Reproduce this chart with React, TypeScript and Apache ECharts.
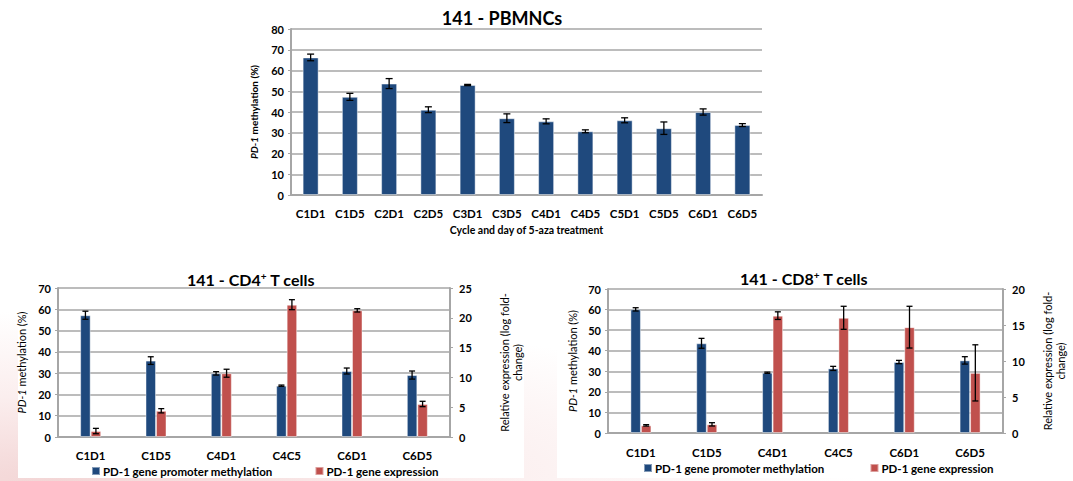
import React, { useEffect, useRef } from "react";
import * as echarts from "echarts";

// ---- Data ----
const topCats = ["C1D1", "C1D5", "C2D1", "C2D5", "C3D1", "C3D5", "C4D1", "C4D5", "C5D1", "C5D5", "C6D1", "C6D5"];
const topMeth = [66.3, 47.3, 53.7, 41.1, 53.0, 37.0, 35.5, 30.7, 36.0, 32.2, 40.0, 33.7];
const topMethErr = [1.6, 1.7, 2.4, 1.4, 0.3, 2.1, 1.2, 0.7, 1.2, 3.0, 1.5, 0.7];

const tCats = ["C1D1", "C1D5", "C4D1", "C4C5", "C6D1", "C6D5"];

const cd4Meth = [57.2, 35.9, 29.9, 24.1, 31.0, 29.1];
const cd4MethErr = [1.9, 1.8, 0.8, 0.3, 1.4, 1.9];
const cd4Expr = [1.0, 4.4, 10.7, 22.2, 21.25, 5.54];
const cd4ExprErr = [0.45, 0.36, 0.67, 0.84, 0.28, 0.45];

const cd8Meth = [60.1, 43.6, 29.3, 31.4, 34.5, 35.3];
const cd8MethErr = [0.8, 2.4, 0.3, 1.0, 0.8, 1.8];
const cd8Expr = [1.06, 1.2, 16.3, 16.0, 14.7, 8.35];
const cd8ExprErr = [0.1, 0.23, 0.53, 1.6, 2.9, 3.9];

const methName = "PD-1 gene promoter methylation";
const exprName = "PD-1 gene expression";

const BLUE = "#1F497D";
const RED = "#C0504D";
const GRID = "#a6a6a6";
const FONT = "Lato";

function errSeries(xIdx: number, yIdx: number, vals: number[], errs: number[], offset: number, cap: number) {
  return {
    type: "custom",
    xAxisIndex: xIdx,
    yAxisIndex: yIdx,
    z: 10,
    silent: true,
    data: vals.map((v, i) => [i, v, errs[i]]),
    renderItem: (params: any, api: any) => {
      const i = api.value(0);
      const v = api.value(1);
      const e = api.value(2);
      const hi = api.coord([i, v + e]);
      const lo = api.coord([i, v - e]);
      const cx = hi[0] + offset;
      const st = { stroke: "#000", lineWidth: 1.3 };
      return {
        type: "group",
        children: [
          { type: "line", shape: { x1: cx, y1: hi[1], x2: cx, y2: lo[1] }, style: st },
          { type: "line", shape: { x1: cx - cap, y1: hi[1], x2: cx + cap, y2: hi[1] }, style: st },
          { type: "line", shape: { x1: cx - cap, y1: lo[1], x2: cx + cap, y2: lo[1] }, style: st },
        ],
      };
    },
  };
}

const axisLabelStyle = { color: "#000", fontFamily: FONT, fontWeight: "bold" as const, fontSize: 11 };

function leftY(gridIndex: number, max: number, interval: number, nameGap: number, nameSize: number, bold: boolean) {
  const w = bold ? "bold" : "normal";
  return {
    type: "value",
    gridIndex,
    min: 0,
    max,
    interval,
    position: "left",
    name: "{i|PD-1} methylation (%)",
    nameLocation: "middle",
    nameRotate: 90,
    nameGap,
    nameTextStyle: {
      color: "#000",
      fontFamily: FONT,
      fontSize: nameSize,
      fontWeight: w,
      rich: { i: { fontStyle: "italic", fontWeight: w, fontFamily: FONT, fontSize: nameSize, color: "#000" } },
    },
    axisLine: { show: true, lineStyle: { color: GRID, width: 2 } },
    axisTick: { show: true, length: 3, lineStyle: { color: GRID } },
    axisLabel: { ...axisLabelStyle, margin: 7 },
    splitLine: { show: true, lineStyle: { color: GRID, width: 1.5 } },
  };
}

function rightY(gridIndex: number, max: number, interval: number, nameGap: number) {
  return {
    type: "value",
    gridIndex,
    min: 0,
    max,
    interval,
    position: "right",
    name: "Relative expression (log fold-\nchange)",
    nameLocation: "middle",
    nameRotate: 90,
    nameGap,
    nameTextStyle: { color: "#000", fontFamily: FONT, fontSize: 11, lineHeight: 13, align: "center" },
    axisLine: { show: true, lineStyle: { color: GRID, width: 2 } },
    axisTick: { show: true, length: 3, lineStyle: { color: GRID } },
    axisLabel: { ...axisLabelStyle, margin: 9 },
    splitLine: { show: false },
  };
}

function catX(gridIndex: number, data: string[], margin: number) {
  return {
    type: "category",
    gridIndex,
    data,
    axisLine: { show: true, lineStyle: { color: GRID, width: 2 } },
    axisTick: { show: false },
    axisLabel: { ...axisLabelStyle, fontSize: 11.5, margin },
  };
}

export default function App() {
  const ref = useRef<HTMLDivElement>(null);
  useEffect(() => {
    if (!ref.current) return;
    const chart = echarts.init(ref.current, null, { renderer: "svg" });
    const barItem = (c: string) => ({ color: c, borderColor: "rgba(255,255,255,0.45)", borderWidth: 1 });
    const legendText = { fontFamily: FONT, fontSize: 11.5, fontWeight: "bold", color: "#000", padding: [0, 0, 0, -2] };
    const option: any = {
      animation: false,
      backgroundColor: "#fff",
      graphic: [
        {
          type: "rect",
          z: -10,
          shape: { x: 0, y: 255, width: 1073, height: 226 },
          style: {
            fill: new echarts.graphic.RadialGradient(0.05, 1, 0.75, [
              { offset: 0, color: "#f3d6d6" },
              { offset: 0.5, color: "#fbeeee" },
              { offset: 1, color: "#ffffff" },
            ]),
          },
          silent: true,
        },
        { type: "rect", z: -9, shape: { x: 18, y: 258, width: 506, height: 220 }, style: { fill: "#fff" }, silent: true },
        { type: "rect", z: -9, shape: { x: 557, y: 258, width: 516, height: 220 }, style: { fill: "#fff" }, silent: true },
      ],
      title: [
        {
          text: "141 - PBMNCs",
          left: 497,
          top: 4,
          textAlign: "center",
          textStyle: { fontFamily: FONT, fontWeight: "bold", fontSize: 18, color: "#000" },
        },
        {
          text: "141 - CD4{sup|+} T cells",
          left: 246,
          top: 266,
          textAlign: "center",
          textStyle: {
            fontFamily: FONT,
            fontWeight: "bold",
            fontSize: 16,
            color: "#000",
            rich: { sup: { fontSize: 10, fontWeight: "bold", fontFamily: FONT, verticalAlign: "top", color: "#000" } },
          },
        },
        {
          text: "141 - CD8{sup|+} T cells",
          left: 799,
          top: 265,
          textAlign: "center",
          textStyle: {
            fontFamily: FONT,
            fontWeight: "bold",
            fontSize: 16,
            color: "#000",
            rich: { sup: { fontSize: 10, fontWeight: "bold", fontFamily: FONT, verticalAlign: "top", color: "#000" } },
          },
        },
      ],
      legend: [
        {
          data: [methName, exprName],
          left: 86,
          top: 460,
          itemWidth: 8,
          itemHeight: 8,
          icon: "rect",
          itemGap: 42,
          textStyle: legendText,
        },
        {
          data: [methName, exprName],
          left: 638,
          top: 457,
          itemWidth: 8,
          itemHeight: 8,
          icon: "rect",
          itemGap: 45,
          textStyle: legendText,
        },
      ],
      grid: [
        { left: 291, right: 311, top: 29, bottom: 286 },
        { left: 58, right: 623, top: 288, bottom: 44 },
        { left: 608, right: 70, top: 289, bottom: 48 },
      ],
      xAxis: [
        {
          ...catX(0, topCats, 12),
          name: "Cycle and day of 5-aza treatment",
          nameLocation: "middle",
          nameGap: 29,
          nameTextStyle: { color: "#000", fontFamily: FONT, fontSize: 10.5, fontWeight: "bold" },
        },
        catX(1, tCats, 12),
        catX(2, tCats, 13),
      ],
      yAxis: [
        leftY(0, 80, 10, 32, 10, true),
        leftY(1, 70, 10, 31, 11, false),
        rightY(1, 25, 5, 48),
        leftY(2, 70, 10, 30, 11, false),
        rightY(2, 20, 5, 38),
      ],
      series: [
        {
          type: "bar",
          name: "PBMNC methylation",
          xAxisIndex: 0,
          yAxisIndex: 0,
          data: topMeth,
          barWidth: 16,
          itemStyle: barItem(BLUE),
        },
        errSeries(0, 0, topMeth, topMethErr, 0, 3.5),

        { type: "bar", name: methName, xAxisIndex: 1, yAxisIndex: 1, data: cd4Meth, barWidth: 10.5, barGap: "0%", itemStyle: barItem(BLUE) },
        { type: "bar", name: exprName, xAxisIndex: 1, yAxisIndex: 2, data: cd4Expr, barWidth: 10.5, barGap: "0%", itemStyle: barItem(RED) },
        errSeries(1, 1, cd4Meth, cd4MethErr, -5.25, 3),
        errSeries(1, 2, cd4Expr, cd4ExprErr, 5.25, 3),

        { type: "bar", name: methName, xAxisIndex: 2, yAxisIndex: 3, data: cd8Meth, barWidth: 10.5, barGap: "0%", itemStyle: barItem(BLUE) },
        { type: "bar", name: exprName, xAxisIndex: 2, yAxisIndex: 4, data: cd8Expr, barWidth: 10.5, barGap: "0%", itemStyle: barItem(RED) },
        errSeries(2, 3, cd8Meth, cd8MethErr, -5.25, 3),
        errSeries(2, 4, cd8Expr, cd8ExprErr, 5.25, 3),
      ],
    };
    chart.setOption(option);
    return () => chart.dispose();
  }, []);
  return <div ref={ref} style={{ position: "fixed", left: 0, top: 0, width: 1073, height: 481 }} />;
}
